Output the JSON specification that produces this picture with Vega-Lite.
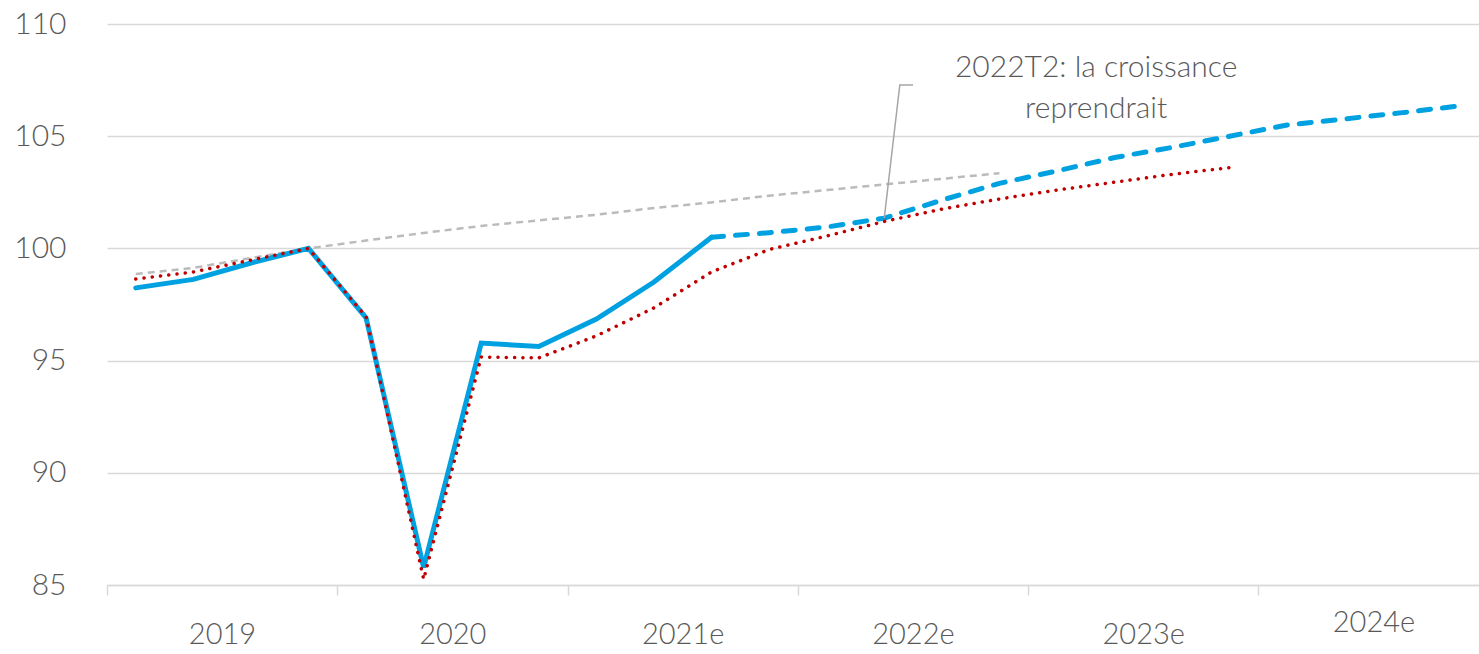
{
  "$schema": "https://vega.github.io/schema/vega-lite/v6.json",
  "width": 1372,
  "height": 561,
  "autosize": {"type": "none"},
  "padding": {"left": 107, "top": 24, "right": 0, "bottom": 69},
  "background": "white",
  "config": {
    "view": {"stroke": null},
    "font": "Lato",
    "axis": {"labelFont": "Lato", "labelFontWeight": 300, "labelColor": "#595959", "labelFontSize": 29}
  },
  "datasets": {
    "series": [
      {"q": 0.5, "s": "obs", "v": 98.24}, {"q": 1.5, "s": "obs", "v": 98.62}, {"q": 2.5, "s": "obs", "v": 99.35}, {"q": 3.5, "s": "obs", "v": 100.0},
      {"q": 4.5, "s": "obs", "v": 96.9}, {"q": 5.5, "s": "obs", "v": 85.78}, {"q": 6.5, "s": "obs", "v": 95.78}, {"q": 7.5, "s": "obs", "v": 95.63},
      {"q": 8.5, "s": "obs", "v": 96.85}, {"q": 9.5, "s": "obs", "v": 98.5}, {"q": 10.5, "s": "obs", "v": 100.5},
      {"q": 10.5, "s": "fc", "v": 100.5}, {"q": 11.5, "s": "fc", "v": 100.7}, {"q": 12.5, "s": "fc", "v": 100.95}, {"q": 13.5, "s": "fc", "v": 101.35},
      {"q": 14.5, "s": "fc", "v": 102.15}, {"q": 15.5, "s": "fc", "v": 102.9}, {"q": 16.5, "s": "fc", "v": 103.45}, {"q": 17.5, "s": "fc", "v": 104.05},
      {"q": 18.5, "s": "fc", "v": 104.5}, {"q": 19.5, "s": "fc", "v": 105.0}, {"q": 20.5, "s": "fc", "v": 105.5}, {"q": 21.5, "s": "fc", "v": 105.77},
      {"q": 22.5, "s": "fc", "v": 106.05}, {"q": 23.5, "s": "fc", "v": 106.35},
      {"q": 0.5, "s": "red", "v": 98.64}, {"q": 1.5, "s": "red", "v": 98.95}, {"q": 2.5, "s": "red", "v": 99.48}, {"q": 3.5, "s": "red", "v": 100.0},
      {"q": 4.5, "s": "red", "v": 96.95}, {"q": 5.5, "s": "red", "v": 85.25}, {"q": 6.5, "s": "red", "v": 95.16}, {"q": 7.5, "s": "red", "v": 95.12},
      {"q": 8.5, "s": "red", "v": 96.1}, {"q": 9.5, "s": "red", "v": 97.35}, {"q": 10.5, "s": "red", "v": 98.95}, {"q": 11.5, "s": "red", "v": 99.95},
      {"q": 12.5, "s": "red", "v": 100.55}, {"q": 13.5, "s": "red", "v": 101.2}, {"q": 14.5, "s": "red", "v": 101.75}, {"q": 15.5, "s": "red", "v": 102.2},
      {"q": 16.5, "s": "red", "v": 102.6}, {"q": 17.5, "s": "red", "v": 102.95}, {"q": 18.5, "s": "red", "v": 103.3}, {"q": 19.5, "s": "red", "v": 103.6},
      {"q": 0.5, "s": "gray", "v": 98.86}, {"q": 1.5, "s": "gray", "v": 99.13}, {"q": 2.5, "s": "gray", "v": 99.57}, {"q": 3.5, "s": "gray", "v": 100.0},
      {"q": 4.5, "s": "gray", "v": 100.35}, {"q": 5.5, "s": "gray", "v": 100.69}, {"q": 6.5, "s": "gray", "v": 101.0}, {"q": 7.5, "s": "gray", "v": 101.25},
      {"q": 8.5, "s": "gray", "v": 101.5}, {"q": 9.5, "s": "gray", "v": 101.8}, {"q": 10.5, "s": "gray", "v": 102.05}, {"q": 11.5, "s": "gray", "v": 102.35},
      {"q": 12.5, "s": "gray", "v": 102.6}, {"q": 13.5, "s": "gray", "v": 102.85}, {"q": 14.5, "s": "gray", "v": 103.1}, {"q": 15.5, "s": "gray", "v": 103.35}
    ],
    "leader": [
      {"q": 13.5, "v": 101.35}, {"q": 13.77, "v": 107.28}, {"q": 14.0, "v": 107.28}
    ],
    "notes": [
      {"q": 17.18, "v": 108.04, "t": "2022T2: la croissance"},
      {"q": 17.18, "v": 106.21, "t": "reprendrait"}
    ]
  },
  "layer": [
    {
      "data": {"name": "series"},
      "transform": [{"filter": "datum.s === 'gray'"}],
      "mark": {"type": "line", "color": "#BBBBBB", "strokeWidth": 2.5, "strokeDash": [7, 5]},
      "encoding": {
        "x": {"field": "q", "type": "quantitative", "scale": {"domain": [0, 23.83], "nice": false, "zero": false},
          "axis": {"values": [0, 4, 8, 12, 16, 20], "grid": false, "domain": true, "domainColor": "#D9D9D9", "domainWidth": 1.5,
            "ticks": true, "tickColor": "#D9D9D9", "tickWidth": 1.5, "tickSize": 10, "labelOffset": 115,
            "labelPadding": {"condition": {"test": "datum.value == 20", "value": 27}, "value": 39},
            "labelBaseline": "middle", "labelAlign": "center", "labelFlush": false, "labelOverlap": false, "title": null,
            "labelExpr": "datum.value == 0 ? '2019' : datum.value == 4 ? '2020' : datum.value == 8 ? '2021e' : datum.value == 12 ? '2022e' : datum.value == 16 ? '2023e' : '2024e'"}},
        "y": {"field": "v", "type": "quantitative", "scale": {"domain": [85, 110], "nice": false, "zero": false},
          "axis": {"values": [85, 90, 95, 100, 105, 110], "grid": true, "gridColor": "#D9D9D9", "gridWidth": 1.5, "domain": false,
            "ticks": false, "labelPadding": 41, "labelBaseline": "middle", "labelFontSize": 30, "title": null}}
      }
    },
    {
      "data": {"name": "series"},
      "transform": [{"filter": "datum.s === 'obs'"}],
      "mark": {"type": "line", "color": "#00A1E0", "strokeWidth": 5, "strokeCap": "round", "strokeJoin": "miter"},
      "encoding": {"x": {"field": "q", "type": "quantitative"}, "y": {"field": "v", "type": "quantitative"}}
    },
    {
      "data": {"name": "series"},
      "transform": [{"filter": "datum.s === 'fc'"}],
      "mark": {"type": "line", "color": "#00A1E0", "strokeWidth": 5, "strokeCap": "round", "strokeDash": [12, 12]},
      "encoding": {"x": {"field": "q", "type": "quantitative"}, "y": {"field": "v", "type": "quantitative"}}
    },
    {
      "data": {"name": "series"},
      "transform": [{"filter": "datum.s === 'red'"}],
      "mark": {"type": "line", "color": "#C00000", "strokeWidth": 3.5, "strokeCap": "round", "strokeDash": [0.1, 8.2]},
      "encoding": {"x": {"field": "q", "type": "quantitative"}, "y": {"field": "v", "type": "quantitative"}}
    },
    {
      "data": {"name": "leader"},
      "mark": {"type": "line", "color": "#A6A6A6", "strokeWidth": 1.5},
      "encoding": {"x": {"field": "q", "type": "quantitative"}, "y": {"field": "v", "type": "quantitative"}}
    },
    {
      "data": {"name": "notes"},
      "mark": {"type": "text", "font": "Lato", "fontWeight": 300, "fontSize": 30, "color": "#595959", "align": "center", "baseline": "middle"},
      "encoding": {"x": {"field": "q", "type": "quantitative"}, "y": {"field": "v", "type": "quantitative"}, "text": {"field": "t"}}
    }
  ]
}
